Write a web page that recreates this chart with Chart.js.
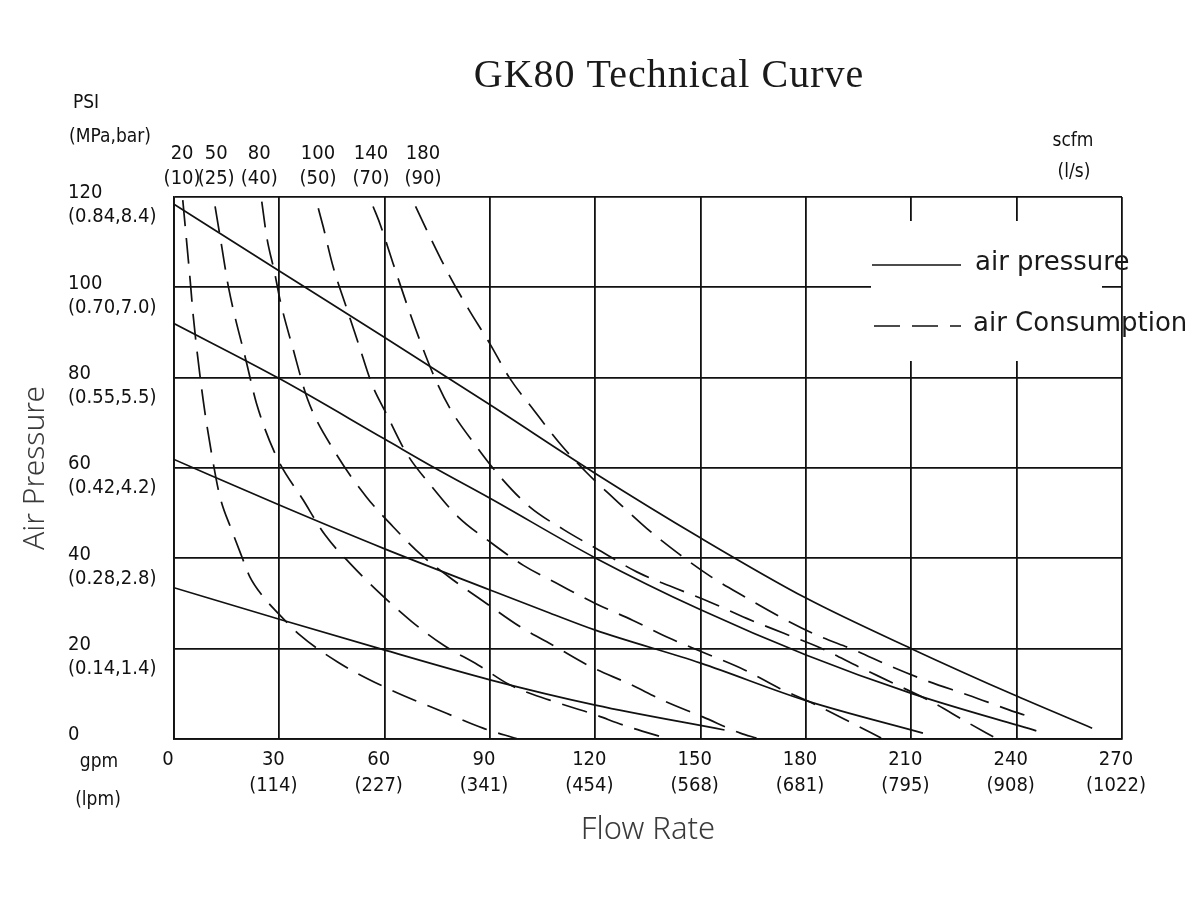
<!DOCTYPE html>
<html>
<head>
<meta charset="utf-8">
<script src="https://cdn.jsdelivr.net/npm/chart.js@4.4.1/dist/chart.umd.min.js"></script>
<style>
html,body{margin:0;padding:0;background:#fff;}
#wrap{width:1200px;height:900px;position:relative;}
</style>
</head>
<body>
<div id="wrap"><canvas id="c"></canvas></div>
<script>
// ---------- tick labels ----------
const xTickGpm = [0, 30, 60, 90, 120, 150, 180, 210, 240, 270];
const xTickLpm = ['', '(114)', '(227)', '(341)', '(454)', '(568)', '(681)', '(795)', '(908)', '(1022)'];
const yTickPsi = [0, 20, 40, 60, 80, 100, 120];
const yTickMpaBar = ['', '(0.14,1.4)', '(0.28,2.8)', '(0.42,4.2)', '(0.55,5.5)', '(0.70,7.0)', '(0.84,8.4)'];
const scfmLabels = ['20', '50', '80', '100', '140', '180'];
const lpsLabels = ['(10)', '(25)', '(40)', '(50)', '(70)', '(90)'];
const scfmLabelAtGpm = [2.3, 12.0, 24.3, 41.0, 56.1, 70.9];

// ---------- air pressure curves (gpm, psi) ----------
const airPressure1 = [[0,118.4],[30,103.6],[60,88.9],[90,74.0],[120,58.8],[150,44.5],[180,31.2],[210,20.0],[240,9.5],[261.5,2.4]];
const airPressure2 = [[0,92.0],[30,79.8],[60,66.4],[74.3,60.0],[90,53.3],[120,40.1],[150,28.6],[180,18.6],[210,10.1],[245.6,1.8]];
const airPressure3 = [[0,61.9],[30,51.8],[60,42.1],[90,33.0],[107,27.9],[120,24.1],[150,16.8],[180,8.5],[213.3,1.3]];
const airPressure4 = [[0,33.5],[30,26.5],[58.6,20.0],[90,13.1],[120,7.5],[156.8,2.0]];

// ---------- air consumption curves (gpm, psi) ----------
const airCons20 = [[2.5,119.3],[4.6,101.6],[5.5,93.5],[8.3,75.1],[11.2,61.0],[13.1,53.6],[16.4,46.3],[19.3,40.4],[21.6,35.9],[25.4,31.5],[29.2,28.2],[35.9,23.0],[46.7,17.0],[60,11.5],[77.6,5.7],[88,2.4],[97.6,0.1]];
const airCons50 = [[11.7,117.9],[13.6,109.0],[15.5,100.1],[20.7,83.2],[23.5,74.3],[29.2,62.5],[36.8,52.9],[43.0,45.2],[50.6,38.5],[58.6,32.3],[67.7,26.0],[76.7,20.8],[86.6,16.4],[95.6,12.0],[107.0,8.6],[118.7,5.7],[129.4,2.7],[140.0,0.2]];
const airCons80 = [[25.0,119.0],[26.4,111.2],[28.7,103.1],[30.2,97.2],[34.0,86.1],[38.1,75.1],[45.8,63.6],[54.8,53.6],[62.4,47.0],[70.5,40.7],[79.5,35.2],[89.0,30.0],[98.5,24.9],[108.7,20.4],[118.7,16.0],[129.4,12.3],[140.0,8.3],[150.6,4.9],[161.3,1.3],[165.9,0.2]];
const airCons100 = [[41.1,117.5],[42.5,113.4],[45.3,104.6],[49.2,95.3],[52.5,87.6],[56.3,78.7],[60.5,72.0],[66.2,63.3],[73.4,55.9],[80.9,49.2],[89.9,43.7],[99.4,38.5],[109.9,34.1],[120,30.0],[130.6,26.3],[141.2,22.3],[151.3,19.0],[162.5,15.3],[172.5,11.2],[183.0,7.5],[193.2,3.5],[201.4,0.2]];
const airCons140 = [[56.7,117.9],[58.6,114.2],[62.4,105.3],[66.2,96.5],[70.0,88.3],[74.3,79.9],[78.6,73.2],[86.2,64.7],[93.3,57.7],[101.3,51.4],[111.1,46.3],[121.1,41.8],[131.8,37.0],[141.8,33.7],[152.4,30.4],[163.1,26.7],[173.7,23.4],[184.3,20.1],[195.0,16.0],[205.0,12.3],[215.6,8.3],[225.7,3.8],[234.0,0.2]];
const airCons180 = [[68.8,117.9],[72.9,111.2],[78.1,103.1],[83.8,95.3],[89.9,87.6],[95.6,79.9],[102.5,72.8],[109.6,65.7],[117.5,59.0],[125.8,52.9],[134.7,46.6],[143.6,41.1],[153.0,35.9],[162.5,31.5],[172.5,27.1],[183.1,23.0],[193.8,19.7],[204.4,16.0],[215.0,12.7],[226.3,9.7],[238.0,6.4],[242.2,5.3]];

const pressureSeries = [airPressure1, airPressure2, airPressure3, airPressure4];
const consumptionSeries = [airCons20, airCons50, airCons80, airCons100, airCons140, airCons180];

const INK = '#111';
const tickFamily = "'DejaVu Sans Condensed', 'DejaVu Sans', sans-serif";
const DASH = [26, 12];

const toXY = arr => arr.map(p => ({x: p[0], y: p[1]}));

const datasets = [];
pressureSeries.forEach(s => datasets.push({
  label: 'air pressure', kind: 'pressure', data: toXY(s), xAxisID: 'x', yAxisID: 'y',
  borderColor: INK, borderWidth: 1.7, pointRadius: 0, fill: false,
  cubicInterpolationMode: 'monotone'
}));
consumptionSeries.forEach(s => datasets.push({
  label: 'air Consumption', kind: 'consumption', data: toXY(s), xAxisID: 'x', yAxisID: 'y',
  borderColor: INK, borderWidth: 1.7, borderDash: DASH, pointRadius: 0, fill: false,
  cubicInterpolationMode: 'monotone'
}));

const textPlugin = {
  id: 'texts',
  beforeDatasetsDraw(chart) {
    // legend background box
    const ctx = chart.ctx;
    ctx.save();
    ctx.fillStyle = '#fff';
    ctx.fillRect(871, 221, 231, 140);
    ctx.restore();
  },
  afterDraw(chart) {
    const ctx = chart.ctx;
    ctx.save();
    // title
    ctx.fillStyle = '#1a1a1a';
    ctx.font = "40px 'Liberation Serif', serif";
    try { ctx.letterSpacing = '1px'; } catch (e) {}
    ctx.textAlign = 'center';
    ctx.textBaseline = 'alphabetic';
    ctx.fillText('GK80 Technical Curve', 669, 87);
    try { ctx.letterSpacing = '0px'; } catch (e) {}

    // unit labels
    ctx.fillStyle = INK;
    ctx.font = "19px " + tickFamily;
    ctx.textBaseline = 'middle';
    ctx.textAlign = 'center';
    ctx.fillText('PSI', 86, 103);
    ctx.fillText('(MPa,bar)', 110, 137);
    ctx.fillText('gpm', 99, 762);
    ctx.fillText('(lpm)', 98, 800);
    ctx.fillText('scfm', 1073, 141);
    ctx.fillText('(l/s)', 1074, 172);

    // legend
    const solid = chart.data.datasets.find(d => d.kind === 'pressure');
    const dashed = chart.data.datasets.find(d => d.kind === 'consumption');
    ctx.strokeStyle = solid.borderColor;
    ctx.lineWidth = solid.borderWidth;
    ctx.setLineDash([]);
    ctx.beginPath(); ctx.moveTo(872, 265); ctx.lineTo(961, 265); ctx.stroke();
    ctx.strokeStyle = dashed.borderColor;
    ctx.lineWidth = dashed.borderWidth;
    ctx.setLineDash(dashed.borderDash);
    ctx.beginPath(); ctx.moveTo(874, 326); ctx.lineTo(961, 326); ctx.stroke();
    ctx.setLineDash([]);
    ctx.fillStyle = '#1a1a1a';
    ctx.font = "26px 'DejaVu Sans', sans-serif";
    ctx.textAlign = 'left';
    ctx.textBaseline = 'middle';
    ctx.fillText(solid.label, 975, 263);
    ctx.fillText(dashed.label, 973, 324);
    ctx.restore();
  }
};

new Chart(document.getElementById('c'), {
  type: 'line',
  data: { datasets },
  options: {
    responsive: true,
    maintainAspectRatio: false,
    animation: false,
    layout: { padding: { left: 0, right: 78, top: 0, bottom: 0 } },
    plugins: { legend: { display: false }, tooltip: { enabled: false }, title: { display: false } },
    scales: {
      x: {
        type: 'linear', position: 'bottom', min: 0, max: 270,
        afterBuildTicks(s) { s.ticks = xTickGpm.map(v => ({ value: v })); },
        afterFit(s) { s.height = 161; },
        grid: { color: INK, lineWidth: 1.8, drawTicks: false },
        border: { display: true, color: INK, width: 1.8 },
        ticks: {
          autoSkip: false, maxRotation: 0, padding: 8, labelOffset: -6, color: INK,
          font: { family: tickFamily, size: 20, lineHeight: 1.3 },
          callback(v) {
            const i = xTickGpm.indexOf(v);
            return xTickLpm[i] ? [String(v), xTickLpm[i]] : [String(v)];
          }
        },
        title: {
          display: true, text: 'Flow Rate', color: '#3a3a3a',
          font: { family: "'Noto Sans', sans-serif", size: 31, weight: 300 },
          padding: { top: 0, bottom: 51 }
        }
      },
      xTop: {
        type: 'linear', position: 'top', min: 0, max: 270,
        afterBuildTicks(s) { s.ticks = scfmLabelAtGpm.map(v => ({ value: v })); },
        afterFit(s) { s.height = 197; },
        grid: { display: false, drawTicks: false },
        border: { display: false },
        ticks: {
          autoSkip: false, maxRotation: 0, minRotation: 0, padding: 6, color: INK,
          font: { family: tickFamily, size: 20, lineHeight: 1.25 },
          callback(v, i) { return [scfmLabels[i], lpsLabels[i]]; }
        }
      },
      y: {
        type: 'linear', position: 'left', min: 0, max: 120, weight: 0,
        afterBuildTicks(s) { s.ticks = yTickPsi.map(v => ({ value: v })); },
        afterFit(s) { s.width = 106; },
        grid: { color: INK, lineWidth: 1.8, drawTicks: false },
        border: { display: true, color: INK, width: 1.8 },
        ticks: {
          crossAlign: 'far', padding: 0, labelOffset: 8, color: INK,
          font: { family: tickFamily, size: 20, lineHeight: 1.2 },
          callback(v) {
            const i = yTickPsi.indexOf(v);
            return [String(v), yTickMpaBar[i]];
          }
        }
      },
      yTitle: {
        type: 'linear', position: 'left', min: 0, max: 1, weight: 1,
        afterFit(s) { s.width = 68; },
        grid: { display: false, drawTicks: false },
        border: { display: false },
        ticks: { display: false },
        title: {
          display: true, text: 'Air Pressure', color: '#3a3a3a',
          font: { family: "'Noto Sans', sans-serif", size: 30, weight: 300 },
          padding: { top: 17, bottom: 0 }
        }
      }
    }
  },
  plugins: [textPlugin]
});
</script>
</body>
</html>
